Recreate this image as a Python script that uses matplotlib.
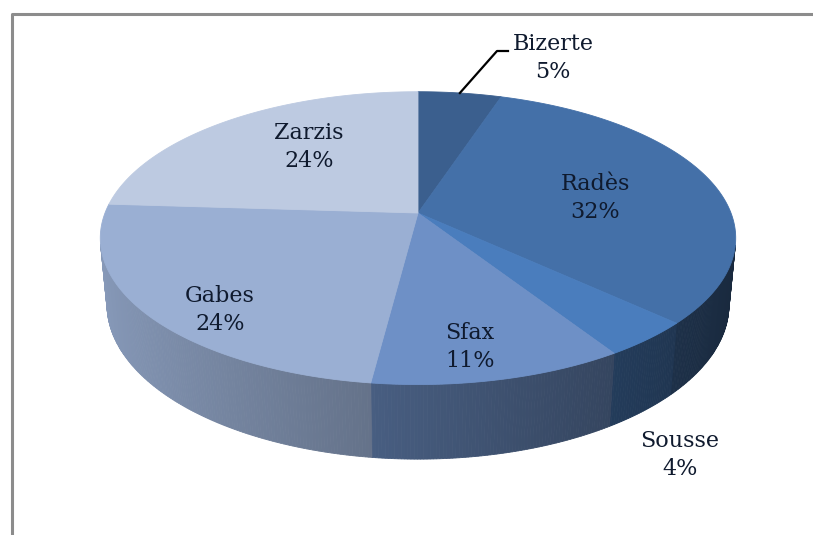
import numpy as np
import matplotlib.pyplot as plt
from matplotlib.patches import Polygon
from matplotlib.colors import to_rgb

cities = ['Bizerte', 'Radès', 'Sousse', 'Sfax', 'Gabes', 'Zarzis']
shares = [5, 32, 4, 11, 24, 24]
colors = ['#3b5f8e', '#4470a8', '#4a7dbd', '#6e90c6', '#9aafd3', '#bdcae1']

# position des étiquettes (pixels)
label_xy = [(553, 58), (595, 198), (680, 455), (470, 347), (220, 310), (309, 147)]
leader_elbow = [(497, 51), (508, 51)]

W, H = 813, 535
cx, cy = 418, 213      # centre du disque
R = 313                # rayon en pixels
tilt = np.radians(27)  # inclinaison
D = 5.19               # distance caméra (perspective)
thick = 0.24           # épaisseur du disque


def project(X, Y, Z):
    depth = Y * np.sin(tilt) + Z * np.cos(tilt)
    s = D / (D - depth)
    px = cx + R * X * s
    py = cy - R * (Y * np.cos(tilt) - Z * np.sin(tilt)) * s
    return px, py


def rim(a, Y=0.0, r=1.0):
    return project(r * np.sin(a), Y, -r * np.cos(a))


fig = plt.figure(figsize=(8.13, 5.35), dpi=100)
ax = fig.add_axes([0, 0, 1, 1])
ax.set_xlim(0, W)
ax.set_ylim(H, 0)
ax.axis('off')

fracs = np.array(shares, dtype=float) / sum(shares)
edges = np.concatenate([[0], np.cumsum(fracs)]) * 2 * np.pi

# côtés (seulement la partie visible)
step = np.radians(0.5)
for i, col in enumerate(colors):
    base = np.array(to_rgb(col))
    a = edges[i]
    while a < edges[i + 1] - 1e-9:
        b = min(a + step, edges[i + 1])
        m = (a + b) / 2
        if -1 - D * np.cos(tilt) * np.cos(m) > 0:
            pts = [rim(a), rim(b), rim(b, -thick), rim(a, -thick)]
            shade = np.clip(0.62 - 0.26 * np.sin(m), 0, 1)
            c = tuple(base * shade)
            ax.add_patch(Polygon(pts, closed=True, facecolor=c, edgecolor=c, lw=0.6))
        a = b

# faces du dessus
for i, col in enumerate(colors):
    angs = np.linspace(edges[i], edges[i + 1], 120)
    px, py = rim(angs)
    pts = [project(0, 0, 0)] + list(zip(px, py))
    ax.add_patch(Polygon(pts, closed=True, facecolor=col, edgecolor=col, lw=0.6))

# étiquettes
for i, city in enumerate(cities):
    x, y = label_xy[i]
    ax.text(x, y, f"{city}\n{shares[i]}%", ha='center', va='center',
            fontsize=16, family='DejaVu Serif', linespacing=1.35, color='#0f1a2e')

# trait de rappel pour Bizerte
mid = (edges[0] + edges[1]) / 2
x0, y0 = rim(mid)
ax.plot([x0, leader_elbow[0][0], leader_elbow[1][0]],
        [y0, leader_elbow[0][1], leader_elbow[1][1]], color='black', lw=1.6)

# cadre
ax.plot([12, 12, W + 5], [H + 5, 14, 14], color='#8c8c8c', lw=2.2, clip_on=False)

plt.savefig('out.png', dpi=100)
plt.close()
